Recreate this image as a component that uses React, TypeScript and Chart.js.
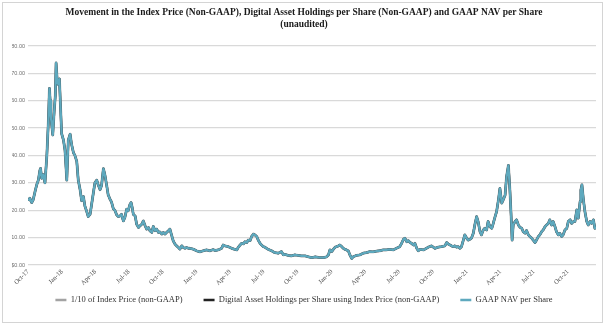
import { useEffect, useRef } from 'react';
import { Chart, registerables } from 'chart.js';

Chart.register(...registerables);

const titleLines = [
  'Movement in the Index Price (Non-GAAP), Digital Asset Holdings per Share (Non-GAAP) and GAAP NAV per Share',
  '(unaudited)',
];

// x axis: days since 1 Oct 2017; ticks at quarter starts
const tickDays = [0, 92, 182, 273, 365, 457, 547, 638, 730, 822, 913, 1004, 1096, 1188, 1278, 1369, 1461];
const tickLabels = [
  'Oct-17', 'Jan-18', 'Apr-18', 'Jul-18', 'Oct-18', 'Jan-19', 'Apr-19', 'Jul-19', 'Oct-19',
  'Jan-20', 'Apr-20', 'Jul-20', 'Oct-20', 'Jan-21', 'Apr-21', 'Jul-21', 'Oct-21',
];
const yTicks = [0, 10, 20, 30, 40, 50, 60, 70, 80];

// sample dates (days since 1 Oct 2017)
const sampleDays = [
  1, 5, 10, 14, 19, 24, 28, 32, 34, 37, 41, 46, 51, 55, 58, 60, 62, 67, 71, 74, 76, 79, 82, 85, 88, 91, 96, 100, 105, 109,
  114, 118, 123, 127, 132, 136, 141, 145, 150, 154, 159, 163, 168, 172, 177, 181, 186, 190, 195, 199, 204, 208, 213, 217, 222, 226, 231, 235, 240, 244,
  249, 253, 258, 262, 267, 271, 276, 279, 282, 285, 290, 294, 299, 303, 308, 312, 317, 321, 326, 330, 335, 339, 344, 348, 353, 357, 362, 366, 371, 375,
  380, 384, 389, 393, 398, 402, 407, 411, 416, 420, 425, 429, 434, 438, 447, 456, 465, 474, 483, 492, 501,
  506, 515, 524, 528, 533, 542, 551, 560, 565, 569, 574, 578, 583, 587, 592, 596, 601, 605, 610, 614, 619, 623, 628, 632, 637, 641, 650, 659, 668, 677,
  686, 691, 695, 704, 713, 722, 731, 740, 750, 759, 768, 777, 786,
  799, 808, 813, 817, 822, 826, 831, 835, 840, 844, 849, 853, 858, 862, 867, 871, 876, 880, 885, 889, 898, 907, 916, 925, 934, 943, 952, 961, 970, 979,
  988, 997, 1006, 1011, 1016, 1020, 1025, 1029, 1034, 1038, 1043, 1047, 1052, 1056, 1061, 1070,
  1083, 1092, 1101, 1110, 1119, 1128, 1133, 1137, 1142, 1146, 1151, 1155, 1160, 1164, 1169, 1173, 1178, 1182, 1187, 1191, 1196, 1200, 1205, 1209, 1214,
  1218, 1223, 1227, 1232, 1236, 1241, 1245, 1250, 1255, 1259, 1264, 1268, 1273, 1277, 1282, 1286,
  1291, 1295, 1300, 1304, 1307, 1310, 1313, 1318, 1322, 1327, 1331, 1336, 1340, 1345, 1349, 1354, 1358, 1363, 1367, 1372, 1376, 1381, 1385, 1390, 1394,
  1399, 1403, 1408, 1412, 1417, 1421, 1426, 1430, 1435, 1439, 1444, 1448, 1453, 1458, 1462, 1467, 1471, 1476, 1480, 1485, 1489, 1494, 1496, 1499, 1503,
  1507, 1512, 1516, 1521, 1525, 1530, 1534, 1537,
];

// GAAP NAV per share ($)
const gaapNavPerShare = [
  23.5, 24.4, 22.8, 23.8, 26.8, 29.5, 31.0, 34.5, 35.3, 31.7, 33.0, 30.0, 40.0, 52.0, 64.5, 60.0, 54.0, 47.5, 56.5, 62.0, 73.8, 67.5, 66.0, 68.0, 57.8, 48.0, 45.6, 42.0, 31.0, 45.6,
  47.8, 44.0, 41.0, 40.0, 37.8, 31.0, 27.5, 23.5, 25.0, 21.5, 19.5, 17.7, 18.5, 22.0, 26.5, 30.0, 31.0, 29.3, 27.5, 29.0, 35.2, 33.0, 29.0, 25.6, 24.0, 23.0, 20.5, 20.0, 18.3, 17.7,
  17.9, 18.5, 16.1, 17.3, 20.4, 19.8, 22.2, 22.8, 21.0, 18.5, 17.9, 14.9, 13.7, 14.3, 14.9, 16.1, 14.3, 13.1, 13.7, 12.5, 11.9, 14.1, 12.5, 13.1, 11.9, 12.1, 11.3, 11.9, 11.3, 11.9,
  12.5, 13.1, 10.7, 8.8, 7.6, 7.0, 6.4, 5.8, 7.0, 6.4, 6.1, 6.4, 6.1, 6.1, 5.8, 5.2, 4.8, 5.2, 5.5, 5.2, 5.6,
  5.3, 5.5, 6.1, 7.3, 7.0, 6.7, 6.1, 5.7, 5.5, 6.5, 7.3, 7.9, 7.7, 8.5, 8.2, 9.1, 8.9, 10.4, 11.3, 11.0, 10.4, 9.1, 7.9, 7.3, 6.7, 6.5, 5.7, 5.2, 4.5, 4.3,
  4.9, 3.7, 3.9, 3.5, 3.3, 3.7, 3.5, 3.3, 3.3, 3.0, 2.7, 3.0, 2.8,
  2.7, 3.0, 3.7, 5.5, 4.9, 5.7, 6.5, 6.7, 7.0, 7.3, 6.7, 6.1, 5.7, 5.5, 5.1, 3.7, 2.4, 3.0, 3.3, 3.5, 3.7, 4.3, 4.5, 4.9, 4.8, 5.1, 5.2, 5.5, 5.5, 5.7,
  5.5, 6.1, 6.7, 7.9, 9.4, 9.8, 8.5, 8.9, 8.2, 7.9, 7.3, 7.9, 6.1, 5.2, 5.7, 5.5,
  6.5, 7.0, 6.1, 6.5, 6.7, 7.0, 8.2, 7.7, 7.3, 7.0, 6.7, 7.0, 6.5, 6.7, 6.1, 6.7, 9.1, 11.0, 9.8, 9.1, 9.4, 9.8, 11.6, 14.6, 17.7,
  15.9, 12.2, 11.0, 12.8, 13.4, 12.8, 15.9, 14.0, 13.4, 15.2, 17.7, 19.5, 23.8, 28.0, 22.6, 23.8,
  25.5, 32.3, 36.4, 27.4, 18.9, 9.1, 14.6, 15.9, 16.5, 14.6, 13.8, 13.4, 12.2, 11.6, 12.6, 11.0, 10.4, 9.8, 9.1, 8.2, 9.1, 10.4, 11.0, 12.2, 12.8,
  14.0, 14.6, 15.2, 16.5, 14.6, 15.9, 14.0, 12.2, 11.0, 11.6, 10.4, 11.0, 12.8, 13.4, 15.9, 16.5, 15.2, 15.9, 15.9, 20.1, 17.1, 23.2, 27.4, 29.3, 23.8,
  19.5, 15.9, 14.6, 15.9, 15.2, 16.5, 13.4, 14.0,
];
// In the picture the three lines coincide within the line width, so they share the same readings.
const indexPriceTenth = gaapNavPerShare;
const holdingsPerShare = gaapNavPerShare;

const serif = "'Liberation Serif', 'Times New Roman', serif";

// keeps the legend row close under the rotated date labels
const legendGap = 9.75;
const legendNudge = {
  id: 'legendNudge',
  afterLayout(chart: any) {
    const lg = chart.legend;
    if (!lg) return;
    const shift = lg.top - (chart.chartArea.bottom + legendGap);
    lg.top -= shift;
    lg.bottom -= shift;
  },
};

export default function App() {
  const ref = useRef<HTMLCanvasElement>(null);

  useEffect(() => {
    document.body.style.margin = '0';
    const pts = (vals: number[]) => sampleDays.map((d, i) => ({ x: d, y: vals[i] }));
    const chart = new Chart(ref.current!, {
      type: 'line',
      plugins: [legendNudge],
      data: {
        datasets: [
          {
            label: '1/10 of Index Price (non-GAAP)',
            data: pts(indexPriceTenth),
            borderColor: '#a3a3a3',
            backgroundColor: '#a3a3a3',
            borderWidth: 2.9,
            order: 3,
          },
          {
            label: 'Digital Asset Holdings per Share using Index Price (non-GAAP)',
            data: pts(holdingsPerShare),
            borderColor: '#222222',
            backgroundColor: '#222222',
            borderWidth: 2.3,
            order: 2,
          },
          {
            label: 'GAAP NAV per Share',
            data: pts(gaapNavPerShare),
            borderColor: '#5ea9be',
            backgroundColor: '#5ea9be',
            borderWidth: 2.3,
            order: 1,
          },
        ],
      },
      options: {
        animation: false,
        responsive: false,
        layout: { padding: { left: 12, right: 12, top: 0, bottom: 0.5 } },
        elements: {
          point: { radius: 0 },
          line: { tension: 0, borderJoinStyle: 'round' },
        },
        plugins: {
          tooltip: { enabled: false },
          title: {
            display: true,
            text: titleLines,
            color: '#1a1a1a',
            font: { family: serif, size: 9.5, weight: 'bold', lineHeight: 1.316 },
            padding: { top: 6.25, bottom: 14.75 },
          },
          legend: {
            position: 'bottom',
            labels: {
              font: { family: serif, size: 8.5 },
              color: '#333333',
              boxWidth: 11,
              boxHeight: 2.5,
              padding: 21,
              sort: (a: any, b: any) => a.datasetIndex - b.datasetIndex,
              generateLabels: (c: any) =>
                Chart.defaults.plugins.legend.labels
                  .generateLabels(c)
                  .map((it: any) => ({ ...it, lineWidth: 0, fillStyle: it.strokeStyle })),
            },
          },
        },
        scales: {
          x: {
            type: 'linear',
            min: 0,
            max: 1537,
            grid: { display: false, drawTicks: false },
            border: { display: false },
            afterBuildTicks: (s: any) => {
              s.ticks = tickDays.map((v) => ({ value: v }));
            },
            afterFit: (s: any) => {
              s.height = 21;
            },
            ticks: {
              autoSkip: false,
              minRotation: 45,
              maxRotation: 45,
              padding: 3,
              color: '#444444',
              font: { family: serif, size: 6.5 },
              callback: (v: any) => {
                const i = tickDays.indexOf(Number(v));
                return i >= 0 ? tickLabels[i] : '';
              },
            },
          },
          y: {
            min: 0,
            max: 80,
            afterBuildTicks: (s: any) => {
              s.ticks = yTicks.map((v) => ({ value: v }));
            },
            afterFit: (s: any) => {
              s.width = 16;
            },
            grid: { color: '#d9d9d9', lineWidth: 1.3, drawTicks: false },
            border: { display: false },
            ticks: {
              padding: 3,
              color: '#707070',
              font: { family: "'Liberation Sans', Arial, sans-serif", size: 5.5 },
              callback: (v: any) => '$' + Number(v).toFixed(2),
            },
          },
        },
      },
    });
    return () => chart.destroy();
  }, []);

  return (
    <div style={{ position: 'fixed', left: 0, top: 0, width: 608, height: 326, background: '#ffffff' }}>
      <canvas ref={ref} width={608} height={326} style={{ position: 'absolute', left: 0, top: 0, width: 608, height: 326 }} />
      <div
        style={{
          position: 'absolute',
          left: 2,
          top: 2,
          width: 601,
          height: 321,
          boxSizing: 'border-box',
          border: '1px solid #d4d4d4',
          pointerEvents: 'none',
        }}
      />
    </div>
  );
}
